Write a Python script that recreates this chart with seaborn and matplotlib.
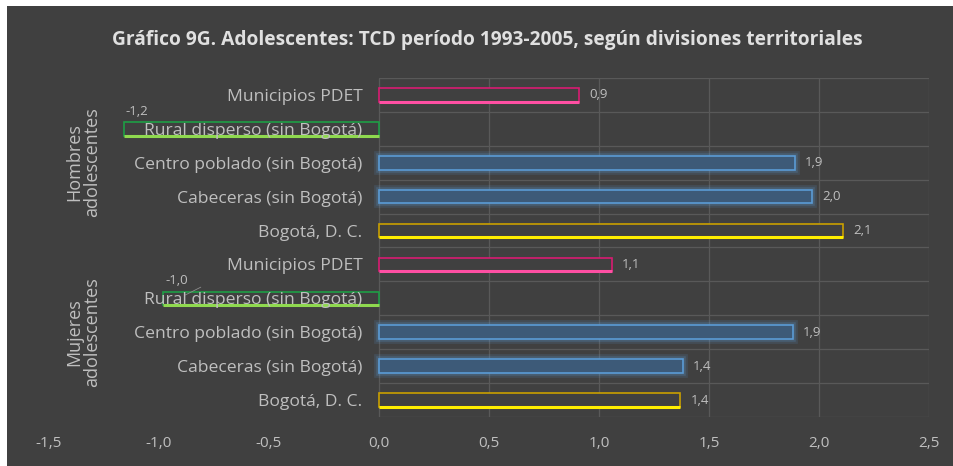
import matplotlib
matplotlib.use("Agg")
import matplotlib.pyplot as plt
import matplotlib.patheffects as pe
from matplotlib.patches import Rectangle
import seaborn as sns
import pandas as pd

# ---- data ----
groups = ["Hombres\nadolescentes"] * 5 + ["Mujeres\nadolescentes"] * 5
categories = ["Municipios PDET", "Rural disperso (sin Bogotá)", "Centro poblado (sin Bogotá)",
              "Cabeceras (sin Bogotá)", "Bogotá, D. C."] * 2
values = [0.91, -1.16, 1.89, 1.97, 2.11,
          1.06, -0.98, 1.88, 1.38, 1.37]
value_labels = ["0,9", "-1,2", "1,9", "2,0", "2,1",
                "1,1", "-1,0", "1,9", "1,4", "1,4"]
xticks = [-1.5, -1.0, -0.5, 0.0, 0.5, 1.0, 1.5, 2.0, 2.5]
xtick_labels = ["-1,5", "-1,0", "-0,5", "0,0", "0,5", "1,0", "1,5", "2,0", "2,5"]
title = "Gráfico 9G. Adolescentes: TCD período 1993-2005, según divisiones territoriales"

# style per category
edge_colors = {"Municipios PDET": "#d81b72", "Rural disperso (sin Bogotá)": "#1e9e45",
               "Centro poblado (sin Bogotá)": "#5b9bd5", "Cabeceras (sin Bogotá)": "#5b9bd5",
               "Bogotá, D. C.": "#c9a000"}
bottom_colors = {"Municipios PDET": "#ff4fa3", "Rural disperso (sin Bogotá)": "#8fd94f",
                 "Bogotá, D. C.": "#ffee00"}
fill_colors = {"Centro poblado (sin Bogotá)": "#3d5a78", "Cabeceras (sin Bogotá)": "#3d5a78"}

rows = [f"{g}|{c}" for g, c in zip(groups, categories)]
df = pd.DataFrame({"row": rows, "value": values})

BG = "#404040"
TXT = "#bfbfbf"
GRID = "#595959"

sns.set_theme(style="dark")
plt.rcParams["font.family"] = ["Open Sans", "DejaVu Sans"]

fig = plt.figure(figsize=(9.54, 4.66), dpi=100, facecolor="white")
fig.patches.append(Rectangle((7 / 954, 0), 1, 1 - 6 / 466, transform=fig.transFigure,
                             facecolor=BG, edgecolor="none", zorder=-10))
ax = fig.add_axes([49 / 954, 1 - 417 / 466, 880 / 954, (417 - 78) / 466])
ax.set_facecolor(BG)

sns.barplot(data=df, y="row", x="value", orient="h", order=rows, ax=ax,
            width=0.4, color=BG, linewidth=1.2, errorbar=None)

for i, p in enumerate(ax.patches[:len(rows)]):
    cat = categories[i]
    p.set_edgecolor(edge_colors[cat])
    p.set_facecolor(fill_colors.get(cat, BG))
    p.set_zorder(3)
    if cat in fill_colors:
        p.set_path_effects([pe.Stroke(linewidth=7, foreground="#5b9bd5", alpha=0.15),
                            pe.Stroke(linewidth=4, foreground="#5b9bd5", alpha=0.22),
                            pe.Normal()])
    x0, y0, w, h = p.get_x(), p.get_y(), p.get_width(), p.get_height()
    if cat in bottom_colors:
        ax.plot([x0, x0 + w], [y0 + h, y0 + h], color=bottom_colors[cat], lw=2.2,
                zorder=4, solid_capstyle="butt")
    # data labels
    yc = y0 + h / 2
    v = values[i]
    if v >= 0:
        ax.text(v + 0.045, yc, value_labels[i], color=TXT, fontsize=9.5,
                va="center", ha="left", zorder=5)
    else:
        ax.text(v + 0.06, yc - 0.52, value_labels[i], color=TXT, fontsize=9.5,
                va="center", ha="center", zorder=5)

# leader line for the Mujeres rural label
i = 6
ax.plot([values[i] + 0.1, values[i] + 0.17], [i - 0.1, i - 0.33], color="#8c8c8c", lw=0.6, zorder=5)

ax.set_xlim(-1.5, 2.5)
ax.set_ylim(len(rows) - 0.5, -0.5)
ax.spines["left"].set_position(("data", 0))
for s in ax.spines.values():
    s.set_visible(False)
ax.set_xticks(xticks)
ax.set_xticklabels(xtick_labels, color=TXT, fontsize=11)
ax.set_yticks(range(len(rows)))
ax.set_yticklabels(categories, color=TXT, fontsize=12.6)
ax.tick_params(axis="both", length=0)
ax.tick_params(axis="y", pad=12, labelcolor=TXT)
ax.tick_params(axis="x", pad=14, labelcolor=TXT)
ax.yaxis.set_zorder(6)

# gridlines (only visible on the positive side, as in the reference)
for xv in [x for x in xticks if x >= 0]:
    ax.axvline(xv, color=GRID, lw=0.9, zorder=0)
for yv in [k - 0.5 for k in range(len(rows) + 1)]:
    ax.plot([0, 2.5], [yv, yv], color=GRID, lw=0.9, zorder=0)

ax.set_xlabel("")
ax.set_ylabel("")

# group labels
fig.text(83 / 954, 1 - 162 / 466, "Hombres\nadolescentes", rotation=90, color=TXT,
         fontsize=13, ha="center", va="center", linespacing=1.0)
fig.text(83 / 954, 1 - 332 / 466, "Mujeres\nadolescentes", rotation=90, color=TXT,
         fontsize=13, ha="center", va="center", linespacing=1.0)

fig.text(487 / 954, 1 - 40 / 466, title, color="#e0e0e0", fontsize=13.8,
         fontweight="bold", ha="center", va="center")

fig.savefig("out.png", dpi=100, facecolor=fig.get_facecolor())
